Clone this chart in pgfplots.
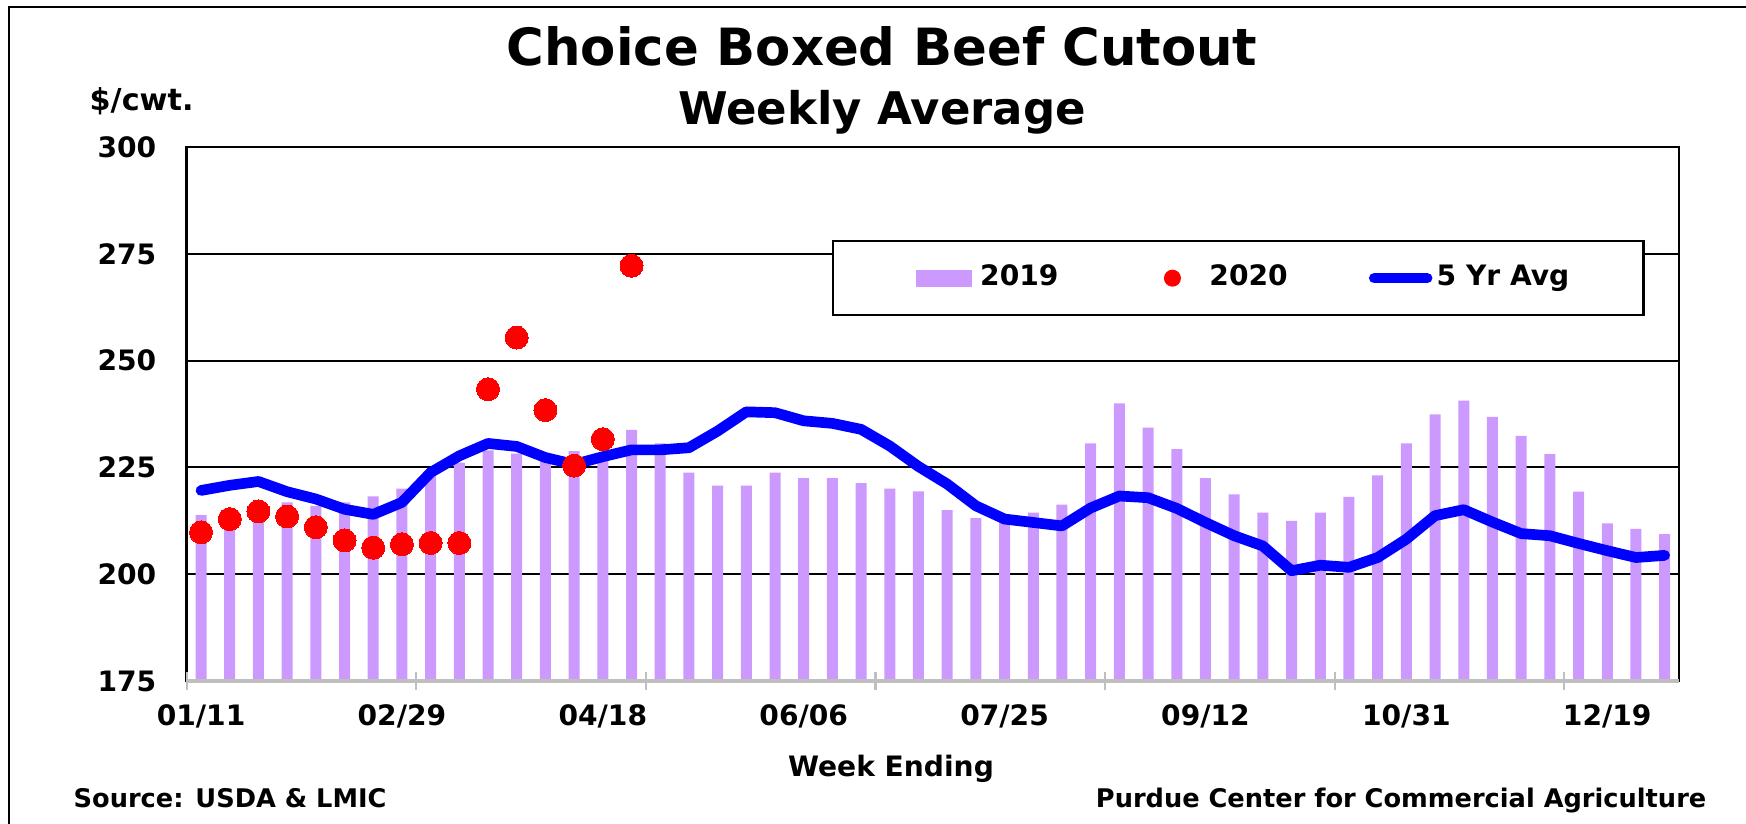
\documentclass[border=0pt]{standalone}
\usepackage{pgfplots}
\pgfplotsset{compat=1.18}
\usepackage{pgfplotstable}
\usepackage{fontspec}
\setmainfont{DejaVu Sans}

\definecolor{bar19}{HTML}{CC99FF}
\definecolor{avgblue}{HTML}{0000FF}
\definecolor{dot20}{HTML}{FF0000}
\definecolor{axgray}{HTML}{BFBFBF}

% week index 0 = 01/11
\pgfplotstableread{
x y
0 213.8
1 212.5
2 214.0
3 216.8
4 216.0
5 216.8
6 218.2
7 220.0
8 223.0
9 226.1
10 229.0
11 228.2
12 227.0
13 228.8
14 228.0
15 233.8
16 230.6
17 223.8
18 220.7
19 220.7
20 223.8
21 222.5
22 222.5
23 221.3
24 220.0
25 219.4
26 215.0
27 213.1
28 213.0
29 214.4
30 216.3
31 230.6
32 240.0
33 234.3
34 229.3
35 222.5
36 218.7
37 214.4
38 212.5
39 214.4
40 218.1
41 223.1
42 230.6
43 237.4
44 240.6
45 236.8
46 232.4
47 228.1
48 219.3
49 211.9
50 210.6
51 209.4
}\yrnineteen

\pgfplotstableread{
x y
0 219.6
1 220.8
2 221.7
3 219.3
4 217.6
5 215.2
6 214.0
7 216.8
8 223.8
9 227.7
10 230.6
11 229.9
12 227.3
13 225.7
14 227.5
15 229.1
16 229.1
17 229.6
18 233.5
19 238.0
20 237.8
21 235.9
22 235.3
23 233.9
24 230.0
25 225.2
26 221.1
27 216.0
28 212.9
29 212.1
30 211.3
31 215.5
32 218.3
33 217.9
34 215.4
35 212.1
36 209.0
37 206.6
38 200.8
39 202.1
40 201.6
41 203.9
42 208.2
43 213.7
44 215.1
45 212.2
46 209.5
47 209.0
48 207.2
49 205.5
50 203.9
51 204.4
}\fiveyr

\pgfplotstableread{
x y
0 209.8
1 212.9
2 214.7
3 213.5
4 211.0
5 207.9
6 206.2
7 207.0
8 207.3
9 207.3
10 243.3
11 255.4
12 238.4
13 225.4
14 231.6
15 272.2
}\yrtwenty

\begin{document}
\begin{tikzpicture}
\useasboundingbox (0,0) rectangle (17.46,8.24);
% chart frame
\draw[line width=0.7pt] (0.09,0) -- (0.09,8.17) -- (17.46,8.17);

\begin{axis}[
  at={(1.867cm,1.43cm)}, anchor=south west,
  width=14.923cm, height=5.34cm, scale only axis,
  xmin=-0.5, xmax=51.5, ymin=175, ymax=300,
  ytick={200,225,250,275,300},
  extra y ticks={175}, extra y tick style={grid=none},
  ymajorgrids, grid style={black, line width=0.6pt},
  xtick={0,7,...,49},
  xticklabels={01/11,02/29,04/18,06/06,07/25,09/12,10/31,12/19},
  extra x ticks={-0.5,7.5,...,47.5}, extra x tick labels={},
  extra x tick style={major tick length=0.18cm, tick align=center,
    major tick style={axgray, line width=0.6pt}},
  major tick length=0pt, tick pos=left,
  axis line style={black, line width=0.7pt},
  ticklabel style={font=\fontsize{8}{9.6}\selectfont\bfseries},
  /pgf/number format/assume math mode=true,
  yticklabel style={xshift=-0.18cm},
  xticklabel style={anchor=base, yshift=-0.45cm},
  legend columns=3,
  legend style={at={(0.4324,0.826)}, anchor=north west, draw=black,
    line width=0.7pt, fill=white, inner xsep=0.74cm, inner ysep=0.24cm,
    font=\fontsize{8}{9.6}\selectfont\bfseries, nodes={inner sep=0pt},
    /tikz/column 1/.style={column sep=0.08cm},
    /tikz/column 2/.style={column sep=0.86cm},
    /tikz/column 3/.style={column sep=0.09cm},
    /tikz/column 4/.style={column sep=0.81cm},
    /tikz/column 5/.style={column sep=0.04cm}},
  after end axis/.append code={
    \draw[axgray, line width=1pt] (rel axis cs:0,0) -- (rel axis cs:1,0);},
]
\addplot[ybar, bar width=0.11cm, fill=bar19, draw=none,
  legend image code/.code={
    \path[draw=none, fill=none] (-0.09cm,-0.085cm) rectangle (0.56cm,0.085cm);
    \fill[bar19, draw=none] (0cm,-0.085cm) rectangle (0.56cm,0.085cm);}]
  table[x=x, y=y] {\yrnineteen};
\addlegendentry{2019}
\addlegendimage{legend image code/.code={
    \path[draw=none, fill=none] (0cm,-0.085cm) rectangle (0.56cm,0.085cm);
    \fill[dot20, draw=none] (0.28cm,0cm) circle (0.085cm);}}
\addlegendentry{2020}
\addplot[avgblue, line width=0.107cm, line join=round, line cap=round,
  legend image code/.code={
    \path[draw=none, fill=none] (0cm,-0.085cm) rectangle (0.64cm,0.085cm);
    \draw[avgblue, line width=0.105cm, line cap=round] (0.055cm,0cm) -- (0.585cm,0cm);}]
  table[x=x, y=y] {\fiveyr};
\addlegendentry{5 Yr Avg}
\addplot[dot20, only marks, mark=*, mark size=3.27pt,
  mark options={fill=dot20, draw=dot20, line width=0pt}, forget plot]
  table[x=x, y=y] {\yrtwenty};
\end{axis}

\node[anchor=base, inner sep=0pt, font=\fontsize{14.6}{17}\selectfont\bfseries]
  at (8.82,7.58) {Choice Boxed Beef Cutout};
\node[anchor=base, inner sep=0pt, font=\fontsize{12.8}{15}\selectfont\bfseries]
  at (8.82,6.99) {Weekly Average};
\node[anchor=base west, inner sep=0pt, font=\fontsize{8.6}{10}\selectfont\bfseries]
  at (0.89,7.13) {\$/cwt.};
\node[anchor=base, inner sep=0pt, font=\fontsize{8}{9.6}\selectfont\bfseries]
  at (8.91,0.47) {Week Ending};
\node[anchor=base west, inner sep=0pt, font=\fontsize{7.3}{9}\selectfont\bfseries]
  at (0.73,0.16) {Source: USDA \& LMIC};
\node[anchor=base east, inner sep=0pt, font=\fontsize{7.3}{9}\selectfont\bfseries]
  at (17.07,0.16) {Purdue Center for Commercial Agriculture};
\end{tikzpicture}
\end{document}
